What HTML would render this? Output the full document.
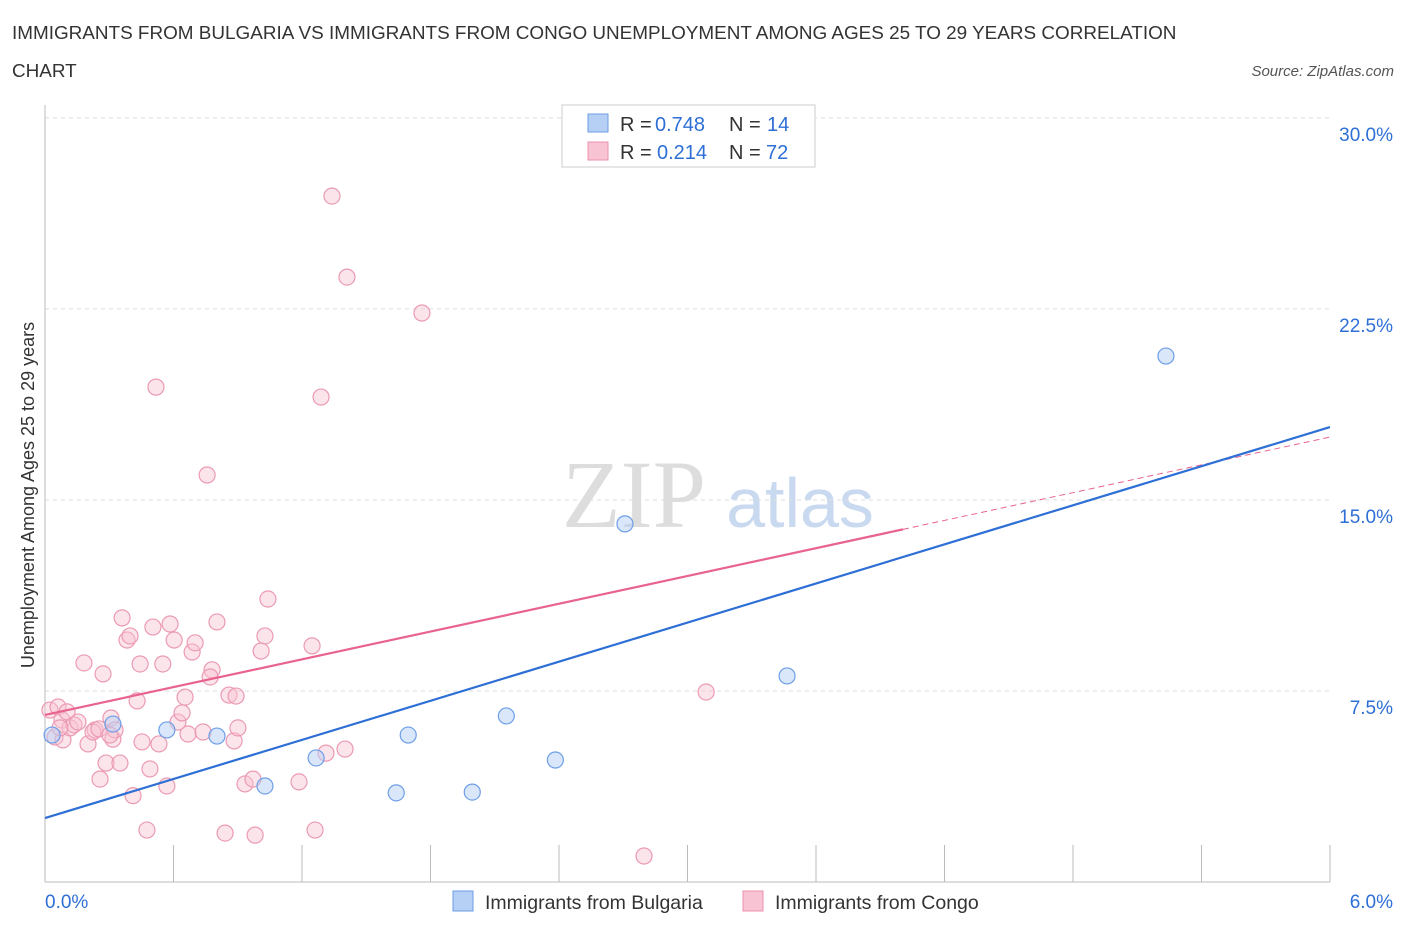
<!DOCTYPE html>
<html><head><meta charset="utf-8">
<style>
body{margin:0;background:#fff;font-family:"Liberation Sans",sans-serif;}
#wrap{position:relative;width:1406px;height:930px;}
</style></head>
<body>
<div id="wrap">
<svg id="svg" width="1406" height="930" xmlns="http://www.w3.org/2000/svg">
<text x="12" y="39" font-size="18.9" fill="#333">IMMIGRANTS FROM BULGARIA VS IMMIGRANTS FROM CONGO UNEMPLOYMENT AMONG AGES 25 TO 29 YEARS CORRELATION</text>
<text x="12" y="77" font-size="18.9" fill="#333">CHART</text>
<text x="1394" y="76" font-size="15" fill="#555" font-style="italic" text-anchor="end">Source: ZipAtlas.com</text>
<text x="634" y="527" font-size="96" fill="#ddd" font-family="Liberation Serif,serif" text-anchor="middle">ZIP</text>
<text x="800" y="527" font-size="70" fill="#c9d9f0" text-anchor="middle">atlas</text>
<text transform="translate(34,495) rotate(-90)" font-size="18" fill="#333" text-anchor="middle">Unemployment Among Ages 25 to 29 years</text>
<g id="grid"></g><g id="marks"></g>
<g>
<rect x="562" y="105" width="253" height="62" fill="#fff" stroke="#ccc"/>
<rect x="588" y="114" width="20" height="18" fill="#b5cff5" stroke="#6d9ee6"/>
<rect x="588" y="142" width="20" height="18" fill="#f8c4d3" stroke="#ec8fac"/>
<text x="620" y="131" font-size="20" fill="#333">R =</text>
<text x="655" y="131" font-size="20" fill="#2e6fd6">0.748</text>
<text x="729" y="131" font-size="20" fill="#333">N =</text>
<text x="767" y="131" font-size="20" fill="#2e6fd6">14</text>
<text x="620" y="159" font-size="20" fill="#333">R =</text>
<text x="657" y="159" font-size="20" fill="#2e6fd6">0.214</text>
<text x="729" y="159" font-size="20" fill="#333">N =</text>
<text x="766" y="159" font-size="20" fill="#2e6fd6">72</text>
</g>
<g>
<rect x="453" y="891" width="20" height="20" fill="#b5cff5" stroke="#6d9ee6"/>
<text x="485" y="909" font-size="19.5" fill="#333">Immigrants from Bulgaria</text>
<rect x="743" y="891" width="20" height="20" fill="#f8c4d3" stroke="#ec8fac"/>
<text x="775" y="909" font-size="19.5" fill="#333">Immigrants from Congo</text>
</g>
</svg></div>
<script>
const yTicks=[7.5,15,22.5,30];
const yTickLabels=["7.5%","15.0%","22.5%","30.0%"];
const xEndLabels=["0.0%","6.0%"];
const bulgariaX=[0.033,0.317,0.569,0.803,1.027,1.266,1.64,1.696,1.995,2.154,2.383,2.708,3.465,5.234];
const bulgariaY=[5.77,6.2,5.97,5.73,3.77,4.87,3.5,5.77,3.53,6.52,4.79,14.06,8.09,20.65];
const congoX=[0.023,0.047,0.061,0.079,0.084,0.103,0.117,0.135,0.154,0.182,0.201,0.234,0.257,0.271,0.285,0.308,0.317,0.327,0.35,0.36,0.383,0.397,0.411,0.43,0.444,0.453,0.476,0.49,0.504,0.518,0.532,0.55,0.569,0.584,0.603,0.621,0.64,0.654,0.668,0.687,0.701,0.738,0.757,0.78,0.771,0.803,0.841,0.859,0.883,0.892,0.901,0.934,0.971,0.981,1.009,1.027,1.041,1.186,1.247,1.261,1.289,1.312,1.34,1.401,1.41,1.76,2.797,3.087,0.224,0.07,0.252,0.303];
const congoY=[6.75,5.69,6.87,6.36,5.58,6.68,6.05,6.17,6.28,8.6,5.42,5.97,4.04,8.17,4.67,6.44,5.61,5.97,4.67,10.37,9.5,9.66,3.39,7.11,8.56,5.5,2.04,4.44,10.01,19.43,5.42,8.56,3.77,10.13,9.5,6.28,6.64,7.26,5.81,9.03,9.39,5.89,15.98,8.33,8.05,10.21,1.92,7.34,5.54,7.3,6.05,3.85,4.04,1.84,9.07,9.66,11.11,3.93,9.27,2.04,19.04,5.06,26.93,5.22,23.75,22.34,1.02,7.46,5.89,6.05,6.01,5.77];
const bTrend=[2.51,17.86];
const cTrend=[6.56,17.47];
const cSolidEnd=4.006;
const X=v=>45+v/6*1285, Y=v=>882-v*25.47;
const ns="http://www.w3.org/2000/svg";
const grid=document.getElementById('grid'), marks=document.getElementById('marks');
function mk(tag,attrs,parent){const e=document.createElementNS(ns,tag);for(const k in attrs)e.setAttribute(k,attrs[k]);parent.appendChild(e);return e;}
yTicks.forEach((t,i)=>{
 const l=mk('line',{x1:45,x2:1330,y1:Y(t),y2:Y(t),stroke:'#ddd','stroke-dasharray':'4,4'},grid);
 
 
 const tx=mk('text',{x:1393,y:Y(t)+23,'font-size':19,fill:'#2e6fd6','text-anchor':'end'},grid);
 tx.textContent=yTickLabels[i];
 
 
});
mk('line',{x1:45,x2:1330,y1:882,y2:882,stroke:'#bbb'},grid);
mk('line',{x1:45,x2:45,y1:105,y2:882,stroke:'#bbb'},grid);
for(let i=0;i<=10;i++){const x=X(i*0.6);const t=mk('line',{x1:x,x2:x,y1:845,y2:882,stroke:'#bbb'},grid);
 
 }
[[0,45,'start'],[1,1393,'end']].forEach(([i,x,a])=>{const t=mk('text',{x:x,y:908,'font-size':19,fill:'#2e6fd6','text-anchor':a},grid);t.textContent=xEndLabels[i];
 
 });
congoX.forEach((x,i)=>{const c=mk('circle',{cx:X(x),cy:Y(congoY[i]),r:8,fill:'rgba(248,196,211,0.45)',stroke:'#eb9ab3','stroke-width':1.2},marks);
 
 });
bulgariaX.forEach((x,i)=>{const c=mk('circle',{cx:X(x),cy:Y(bulgariaY[i]),r:8,fill:'rgba(181,207,245,0.5)',stroke:'#6d9ee6','stroke-width':1.2},marks);
 
 });
const cy=x=>cTrend[0]+(cTrend[1]-cTrend[0])*x/6;
let l1=mk('line',{x1:X(0),y1:Y(cTrend[0]),x2:X(cSolidEnd),y2:Y(cy(cSolidEnd)),stroke:'#e8648f','stroke-width':2.2},marks);


let l2=mk('line',{x1:X(cSolidEnd),y1:Y(cy(cSolidEnd)),x2:X(6),y2:Y(cTrend[1]),stroke:'#e8648f','stroke-width':1,'stroke-dasharray':'6,4'},marks);


let l3=mk('line',{x1:X(0),y1:Y(bTrend[0]),x2:X(6),y2:Y(bTrend[1]),stroke:'#2e6fd6','stroke-width':2.2},marks);


</script>
</body></html>
